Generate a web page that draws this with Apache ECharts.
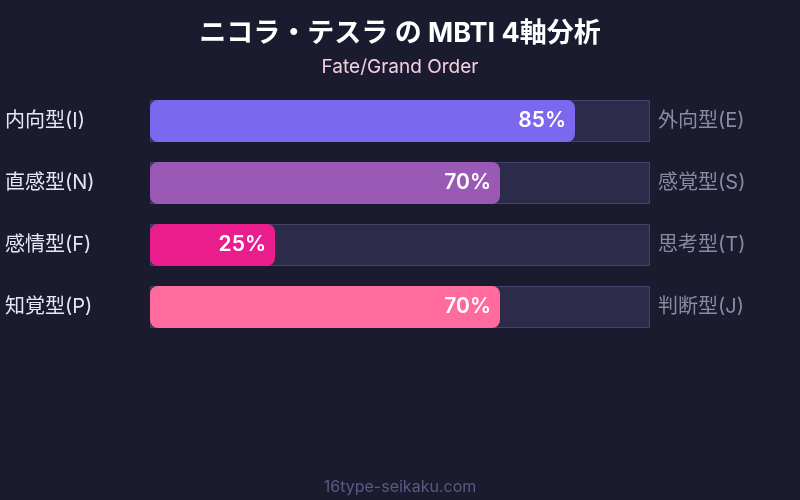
<!DOCTYPE html>
<html><head><meta charset="utf-8">
<script src="https://cdn.jsdelivr.net/npm/echarts@6/dist/echarts.min.js"></script>
<style>html,body{margin:0;padding:0;background:#1a1b2e;}#c{width:800px;height:500px;}</style>
</head><body><div id="c"></div>
<script>
const leftLabels = ['内向型(I)', '直感型(N)', '感情型(F)', '知覚型(P)'];
const rightLabels = ['外向型(E)', '感覚型(S)', '思考型(T)', '判断型(J)'];
const values = [85, 70, 25, 70];
const colors = ['#7b68ee', '#9b59b6', '#e91e8c', '#ff6b9d'];
const fullScale = [100, 100, 100, 100];

const font = 'Inter, "Noto Sans CJK JP", sans-serif';
const chart = echarts.init(document.getElementById('c'));
chart.setOption({
  backgroundColor: '#1a1b2e',
  animation: false,
  title: [
    {text: 'ニコラ・テスラ の MBTI 4軸分析', left: 'center', top: 15,
     textStyle: {color: '#ffffff', fontSize: 27, fontWeight: 'bold', fontFamily: font}},
    {text: 'Fate/Grand Order', left: 'center', top: 53,
     textStyle: {color: '#f4cfe2', fontSize: 19, fontWeight: 'normal', fontFamily: font}},
    {text: '16type-seikaku.com', left: 'center', top: 474,
     textStyle: {color: '#5a5a80', fontSize: 16, fontWeight: 'normal', fontFamily: font}}
  ],
  grid: {left: 150, width: 500, top: 90, height: 248},
  xAxis: {type: 'value', min: 0, max: 100, show: false},
  yAxis: [
    {type: 'category', data: leftLabels, inverse: true, position: 'left',
     axisLine: {show: false}, axisTick: {show: false},
     axisLabel: {align: 'left', margin: 145, color: '#e6e6f5', fontSize: 20, fontFamily: font}},
    {type: 'category', data: rightLabels, inverse: true, position: 'right',
     axisLine: {show: false}, axisTick: {show: false},
     axisLabel: {margin: 8, color: '#8a8aa3', fontSize: 20, fontFamily: font}}
  ],
  series: [
    {type: 'bar', data: fullScale, barWidth: 42, barGap: '-100%', silent: true,
     itemStyle: {color: '#2d2b4a', borderColor: '#44446a', borderWidth: 1}, z: 1},
    {type: 'bar', barWidth: 42,
     data: values.map((v, i) => ({value: v, itemStyle: {color: colors[i]}})),
     itemStyle: {borderRadius: 8},
     label: {show: true, position: 'insideRight', distance: 9, formatter: '{c}%',
             color: '#ffffff', fontSize: 21, fontWeight: 600, fontFamily: font}, z: 2}
  ]
});
</script></body></html>
